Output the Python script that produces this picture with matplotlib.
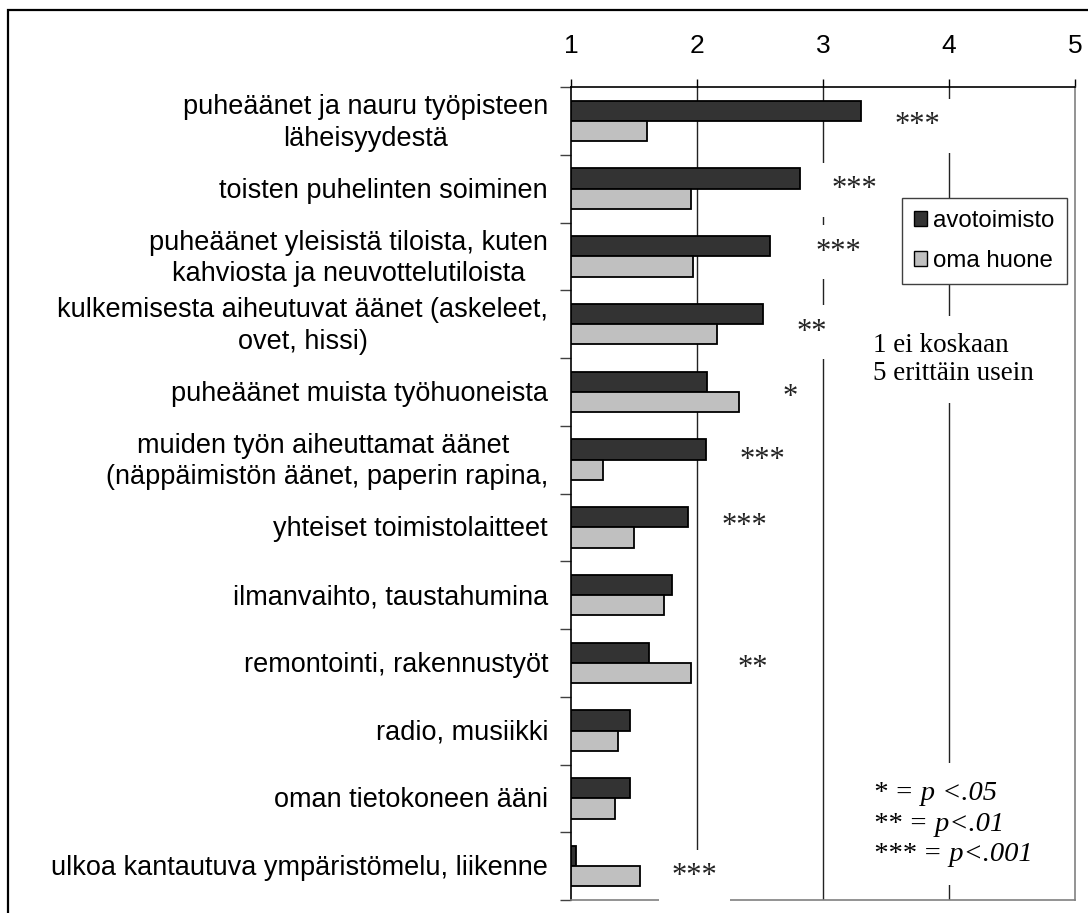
import numpy as np
import matplotlib.pyplot as plt
from matplotlib.patches import Patch, Rectangle
from matplotlib.transforms import blended_transform_factory

# Data
categories = ['puheäänet ja nauru työpisteen\nläheisyydestä',
              'toisten puhelinten soiminen',
              'puheäänet yleisistä tiloista, kuten\nkahviosta ja neuvottelutiloista',
              'kulkemisesta aiheutuvat äänet (askeleet,\novet, hissi)',
              'puheäänet muista työhuoneista',
              'muiden työn aiheuttamat äänet \n(näppäimistön äänet, paperin rapina,',
              'yhteiset toimistolaitteet',
              'ilmanvaihto, taustahumina',
              'remontointi, rakennustyöt',
              'radio, musiikki',
              'oman tietokoneen ääni',
              'ulkoa kantautuva ympäristömelu, liikenne']
avotoimisto = [3.30, 2.82, 2.58, 2.52, 2.08, 2.07, 1.93, 1.80, 1.62, 1.47, 1.47, 1.04]
oma_huone = [1.60, 1.95, 1.97, 2.16, 2.33, 1.25, 1.50, 1.74, 1.95, 1.37, 1.35, 1.55]
significance = ['***', '***', '***', '**', '*', '***', '***', '', '**', '', '', '***']
x_ticks = [1, 2, 3, 4, 5]

# where the significance stars sit (x value, row position)
sig_x = [3.75, 3.25, 3.12, 2.91, 2.74, 2.52, 2.38, 0, 2.44, 0, 0, 1.98]
sig_y = [0.07, 1.02, 1.94, 3.12, 4.08, 5.02, 5.98, 0, 8.08, 0, 0, 11.16]

sans = 'Liberation Sans'
serif = 'Liberation Serif'

fig = plt.figure(figsize=(10.88, 9.13), dpi=100)
ax = fig.add_axes([571/1088, 1 - 900/913, 504/1088, 813/913])

# outer frame of the picture
fig.patches.append(Rectangle((8/1088, -0.05), 1.05, 1.05 - 10/913, transform=fig.transFigure,
                             fill=False, edgecolor='black', linewidth=1.6))

y = np.arange(len(categories))
ax.barh(y - 0.15, np.array(avotoimisto) - 1, left=1, height=0.3,
        color='#333333', edgecolor='black', linewidth=1.3, zorder=3)
ax.barh(y + 0.15, np.array(oma_huone) - 1, left=1, height=0.3,
        color='#c0c0c0', edgecolor='black', linewidth=1.3, zorder=3)

ax.set_xlim(1, 5)
ax.set_ylim(len(categories) - 0.5, -0.5)

# vertical gridlines
for gx in [2, 3, 4]:
    ax.axvline(gx, color='#222222', linewidth=1.0, zorder=1)

# axes: values on top
ax.xaxis.tick_top()
ax.set_xticks(x_ticks)
ax.set_xticklabels([str(t) for t in x_ticks], fontsize=19, family=sans)
ax.tick_params(axis='x', direction='out', length=6, width=1, pad=15, color='black')
ax.set_yticks(np.arange(len(categories) + 1) - 0.5)
ax.set_yticklabels([])
ax.tick_params(axis='y', direction='out', length=8, width=1, color='#404040')

ax.spines['top'].set_color('black')
ax.spines['left'].set_color('black')
ax.spines['bottom'].set_color('#808080')
ax.spines['right'].set_color('#808080')
for s in ax.spines.values():
    s.set_linewidth(1.2)

# category labels
trans = blended_transform_factory(ax.transAxes, ax.transData)
for i, lab in enumerate(categories):
    ax.text(-23/504, i + 0.03, lab, transform=trans, ha='right', va='center',
            multialignment='center', fontsize=19.5, family=sans, linespacing=1.27)

# significance stars
for i, s in enumerate(significance):
    if s:
        ax.text(sig_x[i], sig_y[i], s, ha='center', va='center', fontsize=22,
                family=serif, color='#222222', zorder=4,
                bbox=dict(facecolor='white', edgecolor='none', pad=9))

ax.text(3.4, 3.52, '1 ei koskaan\n5 erittäin usein', ha='left', va='center',
        fontsize=19.5, family=serif, linespacing=1.15, zorder=4,
        bbox=dict(facecolor='white', edgecolor='none', pad=12))

ax.text(3.4, 10.38, '* = p <.05\n** = p<.01\n*** = p<.001', ha='left', va='center',
        fontsize=20.5, family=serif, style='italic', linespacing=1.3, zorder=4,
        bbox=dict(facecolor='white', edgecolor='none', pad=13))

handles = [Patch(facecolor='#333333', edgecolor='black', label='avotoimisto'),
           Patch(facecolor='#c0c0c0', edgecolor='black', label='oma huone')]
leg = ax.legend(handles=handles, loc='upper left', bbox_to_anchor=(902/1088, 1 - 198/913),
                bbox_transform=fig.transFigure, borderaxespad=0, fancybox=False,
                framealpha=1, edgecolor='#404040', prop={'family': sans, 'size': 17.3},
                handlelength=0.55, handleheight=0.55, handletextpad=0.25,
                labelspacing=0.75, borderpad=0.5)
leg.get_frame().set_linewidth(1.0)
leg.set_zorder(5)

fig.savefig('out.png', dpi=100)
